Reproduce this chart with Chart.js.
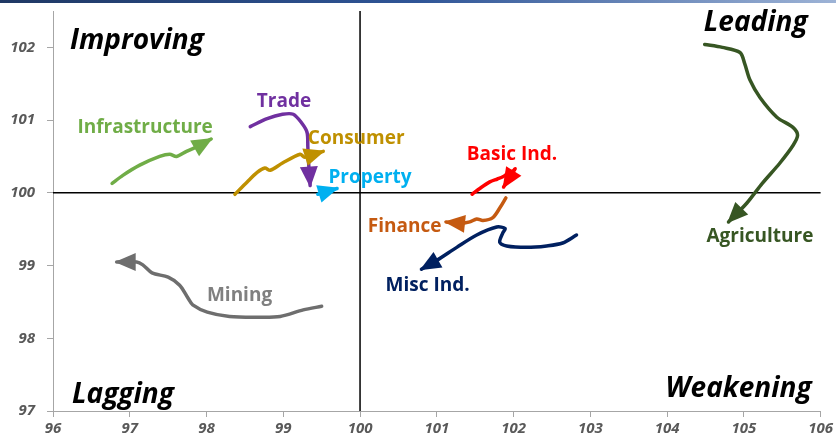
<!DOCTYPE html>
<html>
<head>
<meta charset="utf-8">
<script src="https://cdn.jsdelivr.net/npm/chart.js@4/dist/chart.umd.min.js"></script>
<style>
  body { margin: 0; background: #fff; }
  canvas { display: block; }
</style>
</head>
<body>
<canvas id="chart" width="836" height="443"></canvas>
<script>
// tick values
const xTicks = [96, 97, 98, 99, 100, 101, 102, 103, 104, 105, 106];
const yTicks = [97, 98, 99, 100, 101, 102];

// sector tails (relative strength, momentum), last point = arrow tip
const infraX = [96.77, 96.91, 97.13, 97.39, 97.52, 97.61, 97.74, 97.91, 98.06];
const infraY = [100.13, 100.24, 100.38, 100.50, 100.53, 100.50, 100.57, 100.65, 100.74];

const tradeX = [98.57, 98.79, 98.99, 99.13, 99.24, 99.31, 99.32, 99.33, 99.35];
const tradeY = [100.91, 101.02, 101.08, 101.08, 100.96, 100.83, 100.63, 100.41, 100.10];

const consumerX = [98.37, 98.53, 98.66, 98.76, 98.83, 98.99, 99.22, 99.28, 99.52];
const consumerY = [99.98, 100.15, 100.28, 100.34, 100.31, 100.41, 100.53, 100.49, 100.57];

const propertyX = [99.45, 99.70];
const propertyY = [99.98, 100.06];

const basicX = [101.46, 101.56, 101.69, 101.79, 101.86, 101.93, 101.99, 102.02, 101.87];
const basicY = [99.98, 100.06, 100.15, 100.19, 100.22, 100.27, 100.30, 100.33, 100.08];

const financeX = [101.90, 101.82, 101.73, 101.60, 101.52, 101.43, 101.30, 101.12];
const financeY = [99.93, 99.79, 99.66, 99.62, 99.64, 99.60, 99.58, 99.60];

const miscX = [102.82, 102.64, 102.43, 102.17, 101.91, 101.82, 101.86, 101.89, 101.78, 101.52, 101.26, 101.00, 100.80];
const miscY = [99.42, 99.31, 99.27, 99.25, 99.27, 99.32, 99.45, 99.51, 99.53, 99.42, 99.25, 99.07, 98.95];

const miningX = [99.50, 99.26, 98.96, 98.66, 98.30, 98.01, 97.82, 97.76, 97.65, 97.50, 97.29, 97.17, 97.09, 96.83];
const miningY = [98.44, 98.39, 98.30, 98.29, 98.30, 98.36, 98.46, 98.55, 98.73, 98.84, 98.90, 99.01, 99.05, 99.05];

const agriX = [104.49, 104.72, 104.95, 105.01, 105.08, 105.21, 105.43, 105.64, 105.70, 105.64, 105.47, 105.24, 105.04, 104.80];
const agriY = [102.04, 102.00, 101.93, 101.78, 101.55, 101.31, 101.04, 100.90, 100.79, 100.65, 100.41, 100.13, 99.86, 99.60];

// label anchor for each sector name (data units)
const labelX = [97.20, 99.01, 99.95, 100.13, 101.98, 100.58, 100.88, 98.43, 105.21];
const labelY = [100.89, 101.26, 100.75, 100.21, 100.53, 99.54, 98.73, 98.59, 99.40];

const sectors = [
    { name: 'Infrastructure', xs: infraX, ys: infraY, line: '#70AD47', text: '#70AD47' },
    { name: 'Trade', xs: tradeX, ys: tradeY, line: '#7030A0', text: '#7030A0' },
    { name: 'Consumer', xs: consumerX, ys: consumerY, line: '#BF9000', text: '#BF9000' },
    { name: 'Property', xs: propertyX, ys: propertyY, line: '#00B0F0', text: '#00B0F0' },
    { name: 'Basic Ind.', xs: basicX, ys: basicY, line: '#FF0000', text: '#FF0000' },
    { name: 'Finance', xs: financeX, ys: financeY, line: '#C55A11', text: '#C55A11' },
    { name: 'Misc Ind.', xs: miscX, ys: miscY, line: '#002060', text: '#002060' },
    { name: 'Mining', xs: miningX, ys: miningY, line: '#6E6E6E', text: '#808080' },
    { name: 'Agriculture', xs: agriX, ys: agriY, line: '#375623', text: '#375623' }
];

const datasets = sectors.map(s => ({
    label: s.name,
    data: s.xs.map((x, i) => ({ x: x, y: s.ys[i] })),
    showLine: true,
    borderColor: s.line,
    backgroundColor: s.line,
    borderWidth: 3.5,
    borderCapStyle: 'round',
    borderJoinStyle: 'round',
    tension: 0.3,
    pointRadius: 0,
    pointHoverRadius: 0
}));

// top banner line, quadrant cross and text labels
const decorPlugin = {
    id: 'decor',
    beforeDraw(chart) {
        const ctx = chart.ctx;
        const grad = ctx.createLinearGradient(0, 0, chart.width, 0);
        grad.addColorStop(0, '#1F3864');
        grad.addColorStop(0.5, '#2F5597');
        grad.addColorStop(1, '#9DB3D6');
        ctx.save();
        ctx.fillStyle = grad;
        ctx.fillRect(0, 0, chart.width, 3);
        ctx.restore();
    },
    beforeDatasetsDraw(chart) {
        const ctx = chart.ctx;
        const area = chart.chartArea;
        const xs = chart.scales.x;
        const ys = chart.scales.y;
        const cx = xs.getPixelForValue(100);
        const cy = ys.getPixelForValue(100);
        ctx.save();
        ctx.strokeStyle = '#000';
        ctx.lineWidth = 1.5;
        ctx.beginPath();
        ctx.moveTo(cx, area.top);
        ctx.lineTo(cx, area.bottom);
        ctx.moveTo(area.left, cy);
        ctx.lineTo(area.right, cy);
        ctx.stroke();

        ctx.fillStyle = '#000';
        ctx.font = 'italic bold 28px "Open Sans"';
        ctx.textBaseline = 'middle';
        ctx.textAlign = 'left';
        ctx.fillText('Improving', area.left + 17, 41);
        ctx.fillText('Lagging', area.left + 19, 395);
        ctx.textAlign = 'right';
        ctx.fillText('Leading', area.right - 13, 23);
        ctx.fillText('Weakening', area.right - 9, 389);
        ctx.restore();
    },
    afterDatasetsDraw(chart) {
        const ctx = chart.ctx;
        const xs = chart.scales.x;
        const ys = chart.scales.y;
        ctx.save();
        chart.data.datasets.forEach(ds => {
            const pts = ds.data;
            const n = pts.length;
            const x1 = xs.getPixelForValue(pts[n - 2].x);
            const y1 = ys.getPixelForValue(pts[n - 2].y);
            const x2 = xs.getPixelForValue(pts[n - 1].x);
            const y2 = ys.getPixelForValue(pts[n - 1].y);
            const ang = Math.atan2(y2 - y1, x2 - x1);
            const len = 19;
            const half = 9;
            const bx = x2 - len * Math.cos(ang);
            const by = y2 - len * Math.sin(ang);
            ctx.fillStyle = ds.borderColor;
            ctx.beginPath();
            ctx.moveTo(x2 + 2 * Math.cos(ang), y2 + 2 * Math.sin(ang));
            ctx.lineTo(bx + half * Math.sin(ang), by - half * Math.cos(ang));
            ctx.lineTo(bx - half * Math.sin(ang), by + half * Math.cos(ang));
            ctx.closePath();
            ctx.fill();
        });

        ctx.font = 'bold 19px "Open Sans"';
        ctx.textAlign = 'center';
        ctx.textBaseline = 'middle';
        sectors.forEach((s, i) => {
            ctx.fillStyle = s.text;
            ctx.fillText(s.name, xs.getPixelForValue(labelX[i]), ys.getPixelForValue(labelY[i]));
        });
        ctx.restore();
    }
};

const tickFont = { family: 'Open Sans', size: 15, weight: 'bold', style: 'italic' };

new Chart(document.getElementById('chart').getContext('2d'), {
    type: 'scatter',
    data: { datasets: datasets },
    options: {
        responsive: false,
        animation: false,
        layout: { padding: { top: 11, right: 15, left: 0, bottom: 0 } },
        plugins: {
            legend: { display: false },
            tooltip: { enabled: false }
        },
        scales: {
            x: {
                type: 'linear',
                min: xTicks[0],
                max: xTicks[xTicks.length - 1],
                afterBuildTicks: scale => { scale.ticks = xTicks.map(v => ({ value: v })); },
                afterFit: scale => { scale.height = 32; },
                grid: { drawOnChartArea: false, drawTicks: true, tickLength: 6, color: '#A6A6A6' },
                border: { color: '#A6A6A6', width: 1 },
                ticks: { color: '#595959', font: tickFont, padding: 3 }
            },
            y: {
                type: 'linear',
                min: 97,
                max: 102.5,
                afterBuildTicks: scale => { scale.ticks = yTicks.map(v => ({ value: v })); },
                afterFit: scale => {
                    scale.width = 53;
                    scale.paddingTop = 0;
                    scale.paddingBottom = 0;
                },
                grid: { drawOnChartArea: false, drawTicks: true, tickLength: 6, color: '#A6A6A6' },
                border: { color: '#A6A6A6', width: 1 },
                ticks: { color: '#595959', font: tickFont, padding: 12 }
            }
        }
    },
    plugins: [decorPlugin]
});
</script>
</body>
</html>
